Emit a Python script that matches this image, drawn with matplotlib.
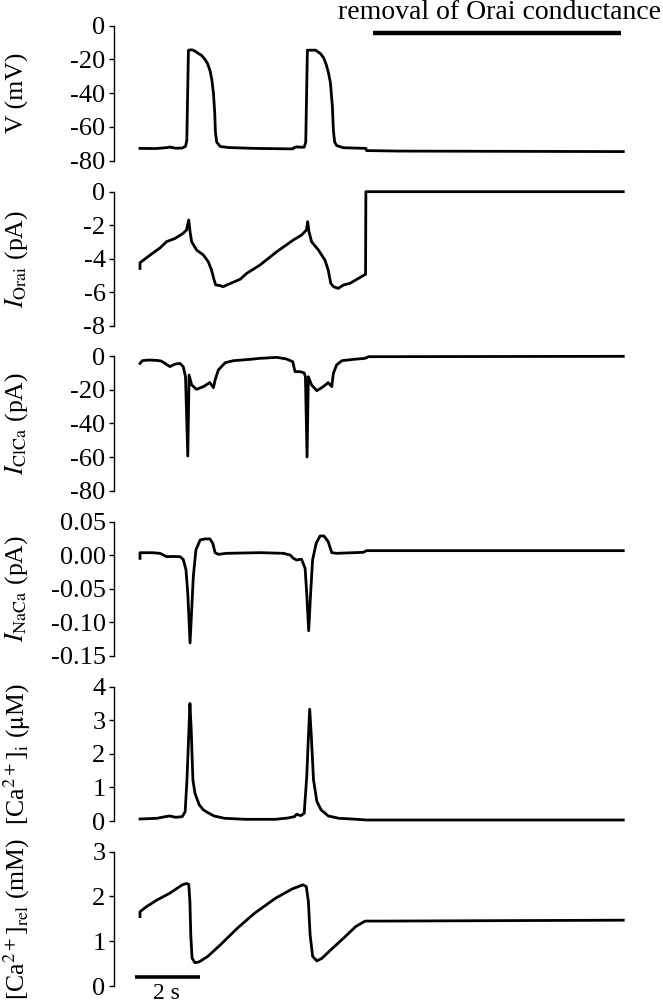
import matplotlib
matplotlib.use("Agg")
import matplotlib.pyplot as plt

plt.rcParams['font.family'] = ['Liberation Serif', 'DejaVu Serif']
plt.rcParams['mathtext.fontset'] = 'stix'
plt.rcParams['axes.unicode_minus'] = False

# ---------------- data (time in s) ----------------
v_t = [0, 0.5, 0.85, 0.91, 1.1, 1.30, 1.40, 1.44, 1.49, 1.60, 1.69, 1.80, 1.89, 2.0, 2.08, 2.16,
       2.21, 2.26, 2.30, 2.32, 2.36, 2.47, 2.73, 3.5, 4.69, 4.75, 4.82, 4.95, 5.05, 5.10, 5.15,
       5.40, 5.55, 5.65, 5.73, 5.80, 5.86, 5.92, 5.95, 5.99, 6.05, 6.25, 6.95, 6.97, 8.0, 14.87]
v_mv = [-72.7, -72.8, -72.2, -71.9, -72.6, -72.5, -71.5, -68, -14.5, -14.3, -15, -16.5, -17.5, -20, -22.5, -27,
        -32, -40, -52, -63, -69, -71.6, -72.2, -72.7, -73, -72.2, -71.8, -72, -72, -69, -14.5,
        -14.5, -16.5, -19, -23, -28, -34, -48, -62, -69, -71, -72.3, -72.7, -74.0, -74.3, -74.6]

orai_t = [0, 0, 0.3, 0.62, 0.82, 1.08, 1.33, 1.43, 1.50, 1.54, 1.59, 1.74, 1.95, 2.10, 2.20, 2.28,
          2.33, 2.45, 2.56, 2.67, 3.08, 3.28, 3.69, 4.21, 4.72, 4.97, 5.12, 5.16, 5.20, 5.28, 5.49,
          5.69, 5.79, 5.87, 5.95, 6.10, 6.26, 6.46, 6.94, 6.95, 14.87]
orai_pa = [-4.58, -4.24, -3.80, -3.35, -2.98, -2.79, -2.48, -2.29, -1.69, -2.39, -2.99, -3.48, -3.78, -4.18,
           -4.67, -5.27, -5.57, -5.60, -5.67, -5.57, -5.23, -4.88, -4.38, -3.58, -2.88, -2.59, -2.29,
           -1.79, -2.39, -2.99, -3.48, -4.08, -4.67, -5.47, -5.67, -5.77, -5.57, -5.47, -4.93, 0, 0]

clca_t = [0, 0.07, 0.26, 0.52, 0.65, 0.77, 0.92, 1.08, 1.23, 1.33, 1.40, 1.47, 1.51, 1.59, 1.74,
          1.95, 2.15, 2.26, 2.31, 2.41, 2.62, 2.87, 3.38, 3.69, 4.21, 4.51, 4.70, 4.77, 4.92, 5.05,
          5.09, 5.14, 5.18, 5.28, 5.44, 5.64, 5.79, 5.90, 5.95, 6.05, 6.21, 6.56, 6.92, 7.03, 14.87]
clca_pa = [-4.4, -2.8, -2.4, -2.6, -3.0, -4.4, -6.3, -4.8, -4.4, -6.3, -12.3, -59.4, -11.3, -17.2,
           -19.8, -18.2, -15.8, -18.8, -14.3, -8.3, -4.0, -2.8, -2.0, -1.4, -0.8, -1.8, -3.4, -9.3,
           -9.3, -10, -12.3, -60, -12.3, -17.2, -20.6, -18.2, -15.8, -18.2, -10.3, -5.3, -2.8, -2.0,
           -1.4, -0.4, -0.2]

naca_t = [0, 0, 0.39, 0.615, 0.82, 1.02, 1.23, 1.33, 1.415, 1.47, 1.54, 1.59, 1.64, 1.72, 1.85,
          2.0, 2.15, 2.24, 2.31, 2.41, 2.67, 3.69, 4.41, 4.62, 4.72, 4.82, 4.97, 5.08, 5.13, 5.19,
          5.25, 5.31, 5.42, 5.54, 5.66, 5.79, 5.90, 6.05, 6.87, 6.97, 14.87]
naca_pa = [-0.0047, 0.0037, 0.0037, 0.0028, -0.0022, -0.0019, -0.0022, -0.0061, -0.022, -0.057,
           -0.131, -0.082, -0.032, 0.0078, 0.0227, 0.0243, 0.0243, 0.0177, 0.0038, 0.0013, 0.0028,
           0.0038, 0.0028, 0.0003, -0.0047, -0.0072, -0.006, -0.0196, -0.057, -0.1127, -0.057,
           -0.0072, 0.0177, 0.0287, 0.0287, 0.0203, 0.0038, 0.0028, 0.0043, 0.0068, 0.0068]

cai_t = [0, 0.52, 0.78, 0.91, 1.1, 1.30, 1.39, 1.445, 1.497, 1.536, 1.576, 1.628, 1.693, 1.823,
         1.953, 2.083, 2.279, 2.604, 3.255, 4.167, 4.557, 4.753, 4.818, 4.948, 5.052, 5.13, 5.182,
         5.221, 5.273, 5.339, 5.443, 5.573, 5.794, 6.12, 6.51, 6.97, 14.87]
cai_um = [0.06, 0.08, 0.13, 0.15, 0.11, 0.13, 0.28, 1.22, 2.51, 3.50, 2.71, 1.22, 0.82, 0.48, 0.33,
          0.25, 0.15, 0.08, 0.05, 0.05, 0.09, 0.13, 0.20, 0.16, 0.23, 1.32, 2.51, 3.33, 2.51, 1.22,
          0.58, 0.33, 0.15, 0.08, 0.06, 0.03, 0.03]

carel_t = [0, 0, 0.195, 0.52, 0.91, 1.30, 1.43, 1.50, 1.536, 1.5625, 1.602, 1.693, 1.823, 2.083,
           2.474, 2.995, 3.516, 4.167, 4.688, 5.013, 5.117, 5.182, 5.234, 5.313, 5.443, 5.599, 5.859,
           6.25, 6.64, 6.927, 7.42, 14.87]
carel_mm = [1.55, 1.66, 1.77, 1.92, 2.07, 2.26, 2.29, 2.27, 1.88, 1.14, 0.62, 0.52, 0.54, 0.66, 0.92,
            1.29, 1.62, 1.96, 2.17, 2.26, 2.22, 1.88, 1.14, 0.66, 0.56, 0.62, 0.80, 1.06, 1.33, 1.45,
            1.45, 1.47]

v_ticks = [0, -20, -40, -60, -80]
orai_ticks = [0, -2, -4, -6, -8]
clca_ticks = [0, -20, -40, -60, -80]
naca_ticks = [0.05, 0.00, -0.05, -0.10, -0.15]
cai_ticks = [0, 1, 2, 3, 4]
carel_ticks = [0, 1, 2, 3]

removal_t = [7.17, 14.8]
scalebar_t = [-0.15, 1.85]

panels = [
    (v_t, v_mv, v_ticks, ['0', '-20', '-40', '-60', '-80'], 'V (mV)'),
    (orai_t, orai_pa, orai_ticks, ['0', '-2', '-4', '-6', '-8'], r'$I_{\mathrm{Orai}}$ (pA)'),
    (clca_t, clca_pa, clca_ticks, ['0', '-20', '-40', '-60', '-80'], r'$I_{\mathrm{ClCa}}$ (pA)'),
    (naca_t, naca_pa, naca_ticks, ['0.05', '0.00', '-0.05', '-0.10', '-0.15'], r'$I_{\mathrm{NaCa}}$ (pA)'),
    (cai_t, cai_um, cai_ticks, ['0', '1', '2', '3', '4'], r'[Ca$^{2+}$]$_{\mathrm{i}}$ ($\mathrm{\mu}$M)'),
    (carel_t, carel_mm, carel_ticks, ['0', '1', '2', '3'], r'[Ca$^{2+}$]$_{\mathrm{rel}}$ (mM)'),
]

W, H = 663, 1005
fig = plt.figure(figsize=(W / 100, H / 100), dpi=100)
tops = [25.7, 191.7, 356.0, 521.7, 686.7, 851.7]
bots = [160.7, 325.7, 490.7, 655.7, 821.0, 986.0]
left_px, right_px = 114.3, 640.0
xlim = ((left_px - 140) / 32.5, (right_px - 140) / 32.5)

axes = []
for (t, y, ticks, tlabels, lab), tp, bp in zip(panels, tops, bots):
    ax = fig.add_axes([left_px / W, 1 - bp / H, (right_px - left_px) / W, (bp - tp) / H])
    ax.plot(t, y, color='black', lw=2.0, clip_on=False, solid_joinstyle='round')
    ax.set_xlim(*xlim)
    ax.set_ylim(min(ticks), max(ticks))
    ax.set_yticks(ticks)
    ax.set_yticklabels(tlabels)
    ax.set_xticks([])
    for s in ['top', 'right', 'bottom']:
        ax.spines[s].set_visible(False)
    ax.spines['left'].set_linewidth(1.0)
    ax.tick_params(axis='y', direction='out', length=3.8, width=1.0, pad=2.5, labelsize=19)
    ax.patch.set_alpha(0)
    fig.text(17 / W, 1 - (tp + bp) / 2 / H, lab, rotation=90, ha='center', va='center', fontsize=18.5)
    axes.append(ax)

# removal bar and label
a0 = axes[0]
a0.plot(removal_t, [-4.4, -4.4], color='black', lw=3.2, solid_capstyle='butt', clip_on=False)
a0.text(11.05, 8.0, 'removal of Orai conductance', ha='center', va='center', fontsize=20, clip_on=False)

# time scale bar
a5 = axes[5]
a5.plot(scalebar_t, [0.19, 0.19], color='black', lw=2.6, solid_capstyle='butt', clip_on=False)
a5.text(0.82, -0.17, '2 s', ha='center', va='center', fontsize=17, clip_on=False)

fig.savefig('out.png', dpi=100)
